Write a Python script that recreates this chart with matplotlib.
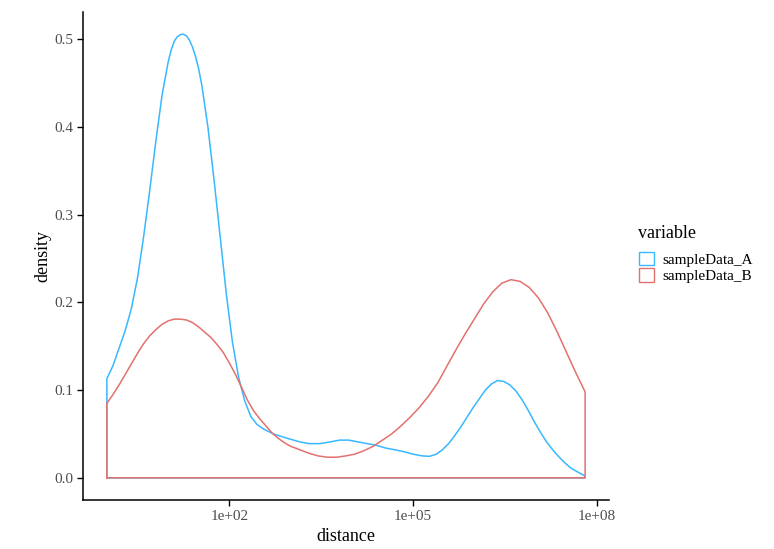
import numpy as np
import matplotlib
matplotlib.use('Agg')
import matplotlib.pyplot as plt
from matplotlib.patches import Patch

plt.rcParams['font.family'] = ['Liberation Serif', 'DejaVu Serif']

# log10(distance) and density
a_logx = [0.00, 0.10, 0.20, 0.30, 0.40, 0.50, 0.60, 0.70, 0.80, 0.90, 1.00, 1.05,
          1.10, 1.15, 1.20, 1.25, 1.30, 1.35, 1.40, 1.45, 1.50, 1.55, 1.65, 1.75,
          1.85, 1.95, 2.05, 2.15, 2.25, 2.35, 2.45, 2.55, 2.72, 2.95, 3.15, 3.30,
          3.48, 3.65, 3.80, 3.95, 4.10, 4.25, 4.38, 4.55, 4.70, 4.84, 5.00, 5.15,
          5.27, 5.38, 5.48, 5.58, 5.68, 5.78, 5.88, 5.98, 6.08, 6.18, 6.28, 6.38,
          6.48, 6.58, 6.68, 6.78, 6.88, 6.98, 7.08, 7.18, 7.28, 7.38, 7.48, 7.58,
          7.68, 7.81]
a_dens = [0.113, 0.128, 0.148, 0.168, 0.193, 0.228, 0.275, 0.328, 0.384, 0.436, 0.474, 0.488,
          0.498, 0.503, 0.5055, 0.506, 0.504, 0.499, 0.491, 0.480, 0.466, 0.448, 0.400, 0.340,
          0.275, 0.210, 0.155, 0.115, 0.088, 0.070, 0.061, 0.056, 0.050, 0.045, 0.041, 0.039,
          0.039, 0.041, 0.043, 0.043, 0.041, 0.039, 0.0375, 0.034, 0.032, 0.030, 0.027, 0.025,
          0.0245, 0.027, 0.032, 0.039, 0.048, 0.058, 0.069, 0.080, 0.090, 0.100, 0.107, 0.111,
          0.110, 0.106, 0.099, 0.089, 0.077, 0.064, 0.052, 0.041, 0.032, 0.024, 0.017, 0.011,
          0.007, 0.002]

b_logx = [0.00, 0.10, 0.20, 0.30, 0.40, 0.50, 0.60, 0.70, 0.80, 0.90, 1.00, 1.10,
          1.20, 1.30, 1.40, 1.50, 1.60, 1.70, 1.80, 1.90, 2.00, 2.10, 2.20, 2.30,
          2.40, 2.50, 2.60, 2.70, 2.80, 2.90, 3.00, 3.15, 3.30, 3.45, 3.60, 3.75,
          3.90, 4.05, 4.20, 4.35, 4.50, 4.65, 4.80, 4.95, 5.10, 5.25, 5.40, 5.55,
          5.70, 5.85, 6.00, 6.15, 6.30, 6.45, 6.60, 6.75, 6.90, 7.05, 7.20, 7.35,
          7.50, 7.65, 7.81]
b_dens = [0.085, 0.095, 0.106, 0.118, 0.130, 0.142, 0.153, 0.162, 0.169, 0.175, 0.179, 0.181,
          0.181, 0.180, 0.177, 0.172, 0.166, 0.160, 0.152, 0.143, 0.131, 0.118, 0.103, 0.088,
          0.076, 0.067, 0.059, 0.051, 0.045, 0.040, 0.036, 0.032, 0.028, 0.025, 0.0235, 0.0235,
          0.025, 0.027, 0.031, 0.036, 0.043, 0.050, 0.059, 0.069, 0.080, 0.093, 0.108, 0.127,
          0.146, 0.164, 0.181, 0.198, 0.212, 0.222, 0.226, 0.224, 0.217, 0.205, 0.188, 0.167,
          0.144, 0.121, 0.098]

labels = ['sampleData_A', 'sampleData_B']
colors = ['#38B8FF', '#E3716E']
x_ticks = [1e2, 1e5, 1e8]
x_ticklabels = ['1e+02', '1e+05', '1e+08']
y_ticks = [0.0, 0.1, 0.2, 0.3, 0.4, 0.5]

fig = plt.figure(figsize=(7.74, 5.49), dpi=100)
ax = fig.add_axes([83 / 774, 1 - 500 / 549, (609 - 83) / 774, (500 - 12) / 549])

# ggplot geom_density draws a closed outline (curve + baseline), A then B
for lx, d, c in [(a_logx, a_dens, colors[0]), (b_logx, b_dens, colors[1])]:
    xs = 10 ** np.array(lx)
    px = np.concatenate([[xs[0]], xs, [xs[-1], xs[0]]])
    py = np.concatenate([[0], d, [0, 0]])
    ax.plot(px, py, color=c, lw=1.1)

ax.set_xscale('log')
ax.set_xlim(10 ** -0.39, 10 ** 8.2)
ax.set_ylim(-0.0253, 0.5313)
ax.set_xticks(x_ticks)
ax.set_xticklabels(x_ticklabels)
ax.xaxis.set_minor_locator(matplotlib.ticker.NullLocator())
ax.set_yticks(y_ticks)
ax.set_yticklabels([f'{v:.1f}' for v in y_ticks])

for s in ['top', 'right']:
    ax.spines[s].set_visible(False)
for s in ['left', 'bottom']:
    ax.spines[s].set_linewidth(1.1)
ax.tick_params(length=4, width=1.0, pad=3, labelsize=11, labelcolor='#4D4D4D')

ax.set_xlabel('distance', fontsize=13, labelpad=4)
ax.set_ylabel('density', fontsize=13, labelpad=2)

fig.text(638 / 774, 1 - 233 / 549, 'variable', fontsize=13, ha='left', va='center')
handles = [Patch(facecolor='white', edgecolor=c, lw=1.0) for c in colors]
leg = fig.legend(handles, labels, loc='center left',
                 bbox_to_anchor=(625 / 774, 1 - 267.5 / 549), frameon=False,
                 fontsize=11, handlelength=1.0, handleheight=1.0,
                 handletextpad=0.55, labelspacing=0.12)

fig.savefig('out.png', dpi=100)
